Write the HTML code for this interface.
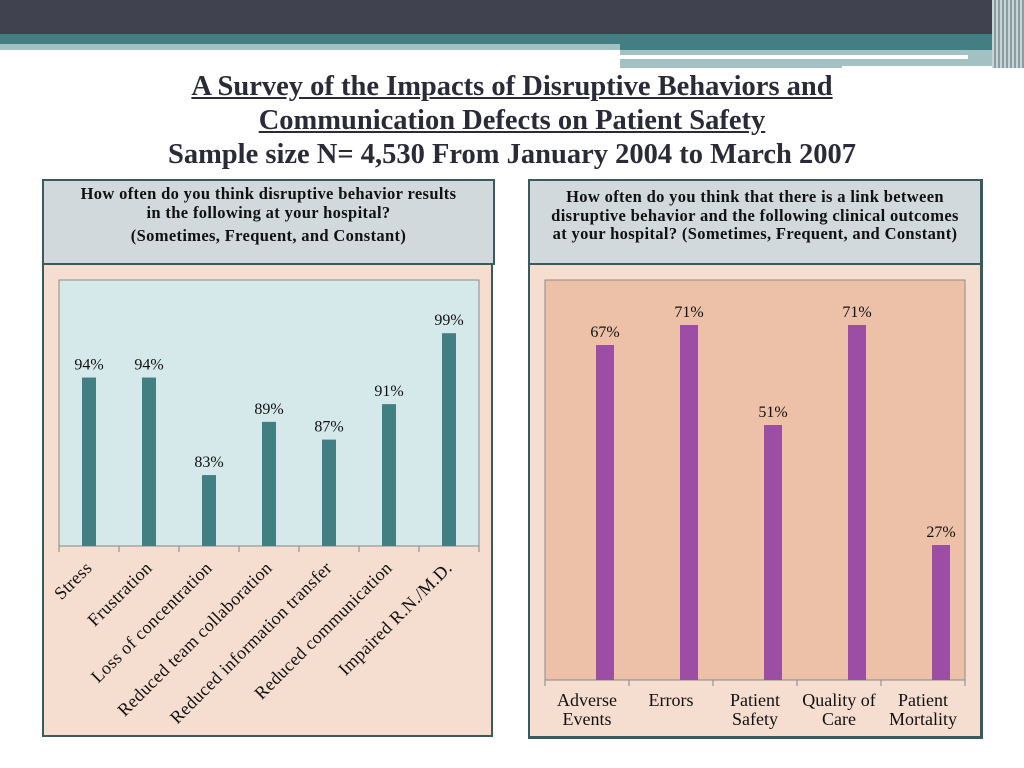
<!DOCTYPE html>
<html><head><meta charset="utf-8"><style>
body{margin:0;width:1024px;height:768px;background:#fff;position:relative;overflow:hidden;font-family:"Liberation Serif",serif}
.abs{position:absolute}
.title{left:0;width:1024px;top:70px;text-align:center;font-weight:bold;font-size:28.5px;line-height:34px;color:#2a2a38}
.hdr{font-weight:bold;font-size:16.5px;letter-spacing:0.35px;text-align:center;line-height:18.5px;color:#111}
</style></head><body>
<div class="abs" style="left:0;top:0;width:1024px;height:34px;background:#41424f"></div>
<div class="abs" style="left:0;top:34px;width:1024px;height:10px;background:#417f82"></div>
<div class="abs" style="left:0;top:44px;width:620px;height:6px;background:#a3c0c2"></div>
<div class="abs" style="left:620px;top:44px;width:404px;height:6px;background:#417f82"></div>
<div class="abs" style="left:620px;top:50px;width:404px;height:18px;background:#a3c0c2"></div>
<div class="abs" style="left:620px;top:55px;width:348px;height:4px;background:#fff"></div>
<div class="abs" style="left:842px;top:66px;width:182px;height:4px;background:#fff"></div>
<div class="abs" style="left:992px;top:0;width:32px;height:68px;background:repeating-linear-gradient(90deg,#c8d4d6 0 2px,#8a9da0 2px 4px)"></div>
<div class="abs title"><u>A Survey of the Impacts of Disruptive Behaviors and</u><br><u>Communication Defects on Patient Safety</u><br>Sample size N= 4,530 From January 2004 to March 2007</div>

<div class="abs" style="left:42px;top:179px;width:451px;height:558px;border:2px solid #3a5a5c;background:#f5ddd0;box-sizing:border-box"></div>
<div class="abs hdr" style="left:42px;top:179px;width:453px;height:86px;background:#d2d9dc;border:2px solid #3a5a5c;box-sizing:border-box;padding-top:4px">How often do you think disruptive behavior results<br>in the following at your hospital?<div style="margin-top:5px">(Sometimes, Frequent, and Constant)</div></div>
<div class="abs" style="left:528px;top:179px;width:455px;height:560px;border:2px solid #3a5a5c;border-right-width:3px;border-bottom-width:3px;background:#f5ddd0;box-sizing:border-box"></div>
<div class="abs hdr" style="left:528px;top:179px;width:455px;height:86px;background:#d2d9dc;border:2px solid #3a5a5c;border-right-width:3px;box-sizing:border-box;padding-top:7px">How often do you think that there is a link between<br>disruptive behavior and the following clinical outcomes<br>at your hospital? (Sometimes, Frequent, and Constant)</div>

<svg class="abs" style="left:0;top:0" width="1024" height="768">
<g id="lc"></g>
<g id="rc"></g>
</svg>
<script>
const leftCats=["Stress","Frustration","Loss of concentration","Reduced team collaboration","Reduced information transfer","Reduced communication","Impaired R.N./M.D."];
const leftVals=[94,94,83,89,87,91,99];
const leftLabels=["94%","94%","83%","89%","87%","91%","99%"];
const rightCats=[["Adverse","Events"],["Errors"],["Patient","Safety"],["Quality of","Care"],["Patient","Mortality"]];
const rightVals=[67,71,51,71,27];
const rightLabels=["67%","71%","51%","71%","27%"];
const NS="http://www.w3.org/2000/svg";
function mk(p,t,a){const e=document.createElementNS(NS,t);for(const k in a)e.setAttribute(k,a[k]);p.appendChild(e);return e;}
function chart(g,o){
  const y=v=>o.y1-(v-o.min)/(o.max-o.min)*(o.y1-o.y0);
  const bw=(o.x1-o.x0)/o.cats.length;
  const bg=mk(g,'rect',{x:o.x0,y:o.y0,width:o.x1-o.x0,height:o.y1-o.y0,fill:o.bg,stroke:'#8a8a8a','stroke-width':1});
  
  const ax=mk(g,'line',{x1:o.x0,x2:o.x1,y1:o.y1,y2:o.y1,stroke:'#888'});
  
  for(let i=0;i<=o.cats.length;i++){const t=mk(g,'line',{x1:o.x0+i*bw,x2:o.x0+i*bw,y1:o.y1,y2:o.y1+6,stroke:'#888'});
    }
  o.vals.forEach((v,i)=>{
    const cx=o.x0+(i+0.5)*bw+o.off;
    const b=mk(g,'rect',{x:cx-o.w/2,y:y(v),width:o.w,height:o.y1-y(v),fill:o.color});
    
    const l=mk(g,'text',{x:cx,y:y(v)-8,'text-anchor':'middle','font-size':16,'font-family':'Liberation Serif, serif',fill:'#111'});
    l.textContent=o.labels[i];
    
    const lx=o.x0+(i+0.5)*bw;
    if(o.rot){
      const ty=o.y1+23;
      const c=mk(g,'text',{x:lx+4,y:ty,'text-anchor':'end','font-size':18,'letter-spacing':0.3,'font-family':'Liberation Serif, serif',fill:'#111',transform:`rotate(-45 ${lx+4} ${ty})`});
      c.textContent=o.cats[i];
      
    }else{
      o.cats[i].forEach((s,j)=>{const c=mk(g,'text',{x:lx,y:o.y1+26+j*19,'text-anchor':'middle','font-size':18,'font-family':'Liberation Serif, serif',fill:'#111'});
        c.textContent=s;
        });
    }
  });
}
chart(document.getElementById('lc'),{x0:59,x1:479,y0:280,y1:546,min:75,max:105,cats:leftCats,vals:leftVals,labels:leftLabels,w:14,off:0,color:'#417f82',bg:'#d5e8ea',rot:true});
chart(document.getElementById('rc'),{x0:545,x1:965,y0:280,y1:680,min:0,max:80,cats:rightCats,vals:rightVals,labels:rightLabels,w:18,off:18,color:'#9b4ea4',bg:'#ecc1a7',rot:false});
</script>
</body></html>
